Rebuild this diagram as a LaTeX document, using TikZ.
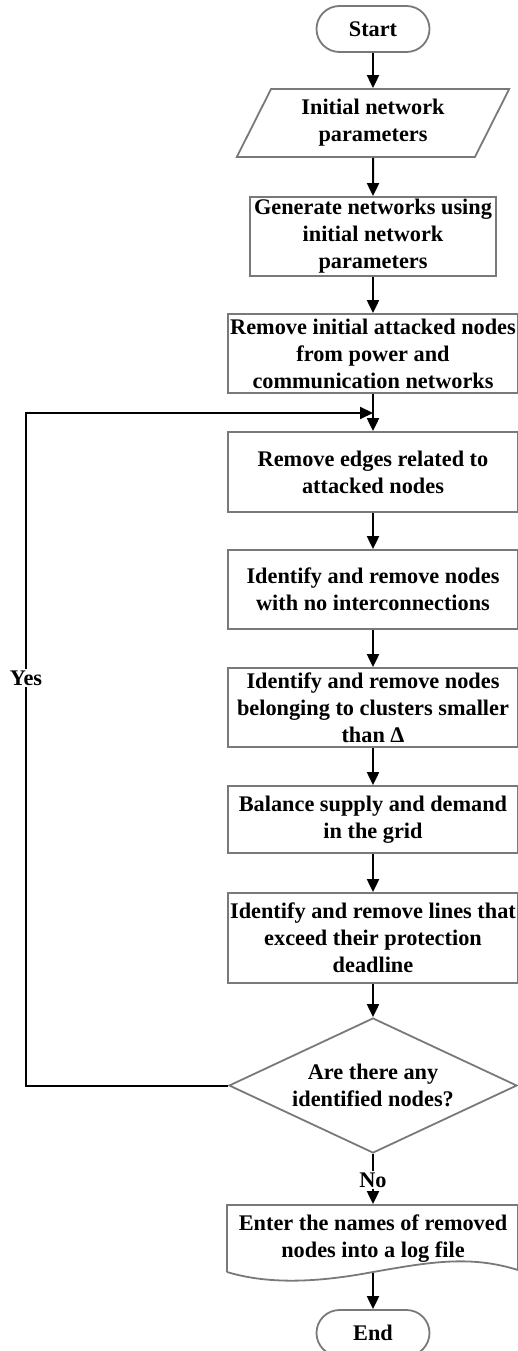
\documentclass[tikz,border=0pt]{standalone}
\usepackage{fontspec}
\setmainfont{Liberation Serif}
\usetikzlibrary{shapes.geometric,arrows.meta,calc}

\tikzset{
    base/.style={draw=gray!95!black, line width=1.8pt, align=center, inner sep=0pt,
        font=\fontsize{22.3}{27}\selectfont\bfseries},
    terminal/.style={base, rectangle, rounded corners=23pt, minimum width=113pt, minimum height=46pt},
    process/.style={base, rectangle, minimum height=79pt},
    inout/.style={base, trapezium, trapezium left angle=63, trapezium right angle=117,
        trapezium stretches=true, minimum width=273pt, minimum height=68pt},
    decision/.style={base, diamond, aspect=2.13, minimum width=288pt, minimum height=135pt},
    label/.style={font=\fontsize{22.3}{27}\selectfont\bfseries, inner sep=1pt, fill=white},
    arr/.style={line width=2pt, -{Triangle[length=13pt, width=12pt]}},
    link/.style={line width=2pt}
}

\begin{document}
\begin{tikzpicture}[x=1pt, y=-1pt]
        \useasboundingbox (0,0) rectangle (518,1351);
        %% Main column
        \node[terminal] (start) at (373,29) {Start};
        \node[inout] (params) at (373,123) {Initial network\\parameters};
        \node[process, minimum width=246pt] (gen) at (373,236.5) {Generate networks using\\initial network\\parameters};
        \node[process, minimum width=290pt] (rminit) at (373,353.5) {Remove initial attacked nodes\\from power and\\communication networks};
        \coordinate (merge) at (373,413);
        \node[process, minimum width=290pt, minimum height=80pt] (rmedges) at (373,472) {Remove edges related to\\attacked nodes};
        \node[process, minimum width=290pt] (isolated) at (373,589.5) {Identify and remove nodes\\with no interconnections};
        \node[process, minimum width=290pt] (clusters) at (373,707.5) {Identify and remove nodes\\belonging to clusters smaller\\than Δ};
        \node[process, minimum width=290pt, minimum height=67pt] (balance) at (373,819.5) {Balance supply and demand\\in the grid};
        \node[process, minimum width=290pt, minimum height=90pt] (lines) at (373,938) {Identify and remove lines that\\exceed their protection\\deadline};
        \node[decision] (decide) at (373,1085.5) {Are there any\\identified nodes?};
        \node[label] (no) at (373,1180) {No};
        \node[base, draw=none, minimum width=291pt, minimum height=67pt] (logfile) at (373,1238.5) {Enter the names of removed\\nodes into a log file};
        \node[terminal] (end) at (373,1333) {End};
        %% Log file outline
        \draw[draw=gray!95!black, line width=1.8pt] (227,1272) -- (227,1205) -- (518,1205) -- (518,1270)
            .. controls (470,1255) and (430,1262) .. (373,1272)
            .. controls (320,1282) and (270,1285) .. (227,1272);
        %% Labels
        \node[label] (yes) at (26,678) {Yes};
        %% Arrows
        \draw[arr] (start) -- (params);
        \draw[arr] (params) -- (gen);
        \draw[arr] (gen) -- (rminit);
        \draw[arr] (rminit) -- (rmedges);
        \draw[arr] (rmedges) -- (isolated);
        \draw[arr] (isolated) -- (clusters);
        \draw[arr] (clusters) -- (balance);
        \draw[arr] (balance) -- (lines);
        \draw[arr] (lines) -- (decide);
        \draw[link] (decide.south) -- (no.north);
        \draw[arr] (no.south) -- (logfile.north);
        \draw[arr] (logfile.south) -- (end.north);
        \draw[link] (decide.west) -| (yes.south);
        \draw[arr] (yes.north) |- (merge);
    \end{tikzpicture}
\end{document}
